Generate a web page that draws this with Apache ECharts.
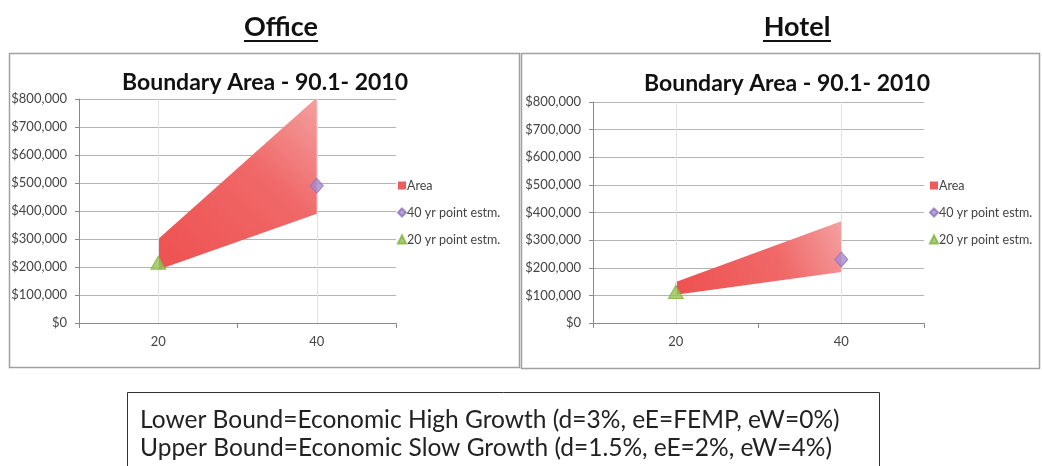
<!DOCTYPE html>
<html>
<head>
<meta charset="utf-8">
<script src="https://cdn.jsdelivr.net/npm/echarts@6/dist/echarts.min.js"></script>
<style>
  html, body { margin: 0; padding: 0; background: #fff; }
  #main { width: 1042px; height: 466px; }
</style>
</head>
<body>
<div id="main"></div>
<script>
  // x categories (years)
  const categories = ['20', '40'];
  const yTicks = [0, 100000, 200000, 300000, 400000, 500000, 600000, 700000, 800000];

  // Office
  const officeLower = [190000, 390000];
  const officeUpper = [300000, 805000];
  const office20yr = [215000, '-'];
  const office40yr = ['-', 490000];

  // Hotel
  const hotelLower = [102000, 185000];
  const hotelUpper = [148000, 368000];
  const hotel20yr = [112000, '-'];
  const hotel40yr = ['-', 230000];

  const FONT = 'Lato, "Liberation Sans", sans-serif';
  const areaColor = new echarts.graphic.LinearGradient(0, 1, 1, 0, [
    {offset: 0, color: '#ee5050'},
    {offset: 0.6, color: '#f06868'},
    {offset: 1, color: '#f4a0a0'}
  ]);

  function money(v) {
    return '$' + v.toLocaleString('en-US');
  }

  function axesFor(idx) {
    return {
      x: {
        type: 'category',
        gridIndex: idx,
        data: categories,
        boundaryGap: true,
        axisLine: {lineStyle: {color: '#8a8a8a'}},
        axisTick: {show: true, length: 5, lineStyle: {color: '#8a8a8a'}},
        axisLabel: {color: '#444', fontFamily: FONT, fontSize: 13, margin: 12},
        splitLine: {show: false}
      },
      y: {
        type: 'value',
        gridIndex: idx,
        min: yTicks[0],
        max: yTicks[yTicks.length - 1],
        interval: yTicks[1] - yTicks[0],
        axisLine: {show: true, lineStyle: {color: '#8a8a8a'}},
        axisTick: {show: true, length: 4, lineStyle: {color: '#8a8a8a'}},
        axisLabel: {color: '#444', fontFamily: FONT, fontSize: 13, margin: 12, formatter: money},
        splitLine: {lineStyle: {color: '#b4b4b4', width: 1}}
      }
    };
  }

  function seriesFor(idx, lower, upper, p20, p40) {
    const stack = 'band' + idx;
    return [
      {
        name: 'lower' + idx,
        type: 'line',
        xAxisIndex: idx,
        yAxisIndex: idx,
        stack: stack,
        data: lower,
        symbol: 'none',
        lineStyle: {opacity: 0},
        silent: true,
        z: 1
      },
      {
        name: 'Area',
        type: 'line',
        xAxisIndex: idx,
        yAxisIndex: idx,
        stack: stack,
        data: upper.map((v, i) => v - lower[i]),
        symbol: 'none',
        lineStyle: {width: 0},
        itemStyle: {color: '#ef5b5b'},
        areaStyle: {color: areaColor, opacity: 1},
        markLine: {
          silent: true,
          symbol: 'none',
          label: {show: false},
          lineStyle: {color: '#e2e2e2', width: 1, type: 'solid'},
          data: categories.map(c => ({xAxis: c}))
        },
        z: 2
      },
      {
        name: '40 yr point estm.',
        type: 'scatter',
        xAxisIndex: idx,
        yAxisIndex: idx,
        data: p40,
        symbol: 'diamond',
        symbolSize: [13, 15],
        itemStyle: {color: '#a58ad0', borderColor: '#8d72bd', borderWidth: 1},
        z: 5
      },
      {
        name: '20 yr point estm.',
        type: 'scatter',
        xAxisIndex: idx,
        yAxisIndex: idx,
        data: p20,
        symbol: 'triangle',
        symbolSize: [15, 13],
        itemStyle: {color: '#93c452', borderColor: '#7eb03e', borderWidth: 1},
        z: 5
      }
    ];
  }

  function legendFor(left) {
    return {
      orient: 'vertical',
      left: left,
      top: 179,
      padding: 0,
      itemGap: 14,
      itemWidth: 8,
      itemHeight: 8,
      textStyle: {color: '#444', fontFamily: FONT, fontSize: 12.5, padding: [0, 0, 0, -4]},
      data: [
        {name: 'Area', icon: 'rect', itemStyle: {color: '#ef5b5b'}},
        {name: '40 yr point estm.', icon: 'diamond', itemStyle: {color: '#a58ad0'}},
        {name: '20 yr point estm.', icon: 'triangle', itemStyle: {color: '#93c452'}}
      ]
    };
  }

  const a0 = axesFor(0);
  const a1 = axesFor(1);

  const chart = echarts.init(document.getElementById('main'));
  chart.setOption({
    backgroundColor: '#fff',
    animation: false,
    legend: [legendFor(397), legendFor(929)],
    grid: [
      {left: 79, right: 646, top: 99, bottom: 143},
      {left: 593, right: 118, top: 102, bottom: 143}
    ],
    xAxis: [a0.x, a1.x],
    yAxis: [a0.y, a1.y],
    series: [].concat(
      seriesFor(0, officeLower, officeUpper, office20yr, office40yr),
      seriesFor(1, hotelLower, hotelUpper, hotel20yr, hotel40yr)
    ),
    graphic: [
      // panel borders
      {type: 'rect', silent: true, z: -1, shape: {x: 9.5, y: 53.5, width: 510, height: 314},
        style: {fill: 'none', stroke: '#a0a0a0', lineWidth: 1.5}},
      {type: 'rect', silent: true, z: -1, shape: {x: 521.5, y: 53.5, width: 518, height: 315},
        style: {fill: 'none', stroke: '#a0a0a0', lineWidth: 1.5}},
      // chart titles
      {type: 'text', x: 265, y: 83,
        style: {text: 'Boundary Area - 90.1- 2010', align: 'center', verticalAlign: 'middle',
          fontFamily: FONT, fontWeight: 'bold', fontSize: 23, fill: '#111'}},
      {type: 'text', x: 787, y: 84,
        style: {text: 'Boundary Area - 90.1- 2010', align: 'center', verticalAlign: 'middle',
          fontFamily: FONT, fontWeight: 'bold', fontSize: 23, fill: '#111'}},
      // headings
      {type: 'text', x: 281, y: 27,
        style: {text: 'Office', align: 'center', verticalAlign: 'middle',
          fontFamily: FONT, fontWeight: 'bold', fontSize: 27, fill: '#111'}},
      {type: 'line', shape: {x1: 244, y1: 41, x2: 318, y2: 41}, style: {stroke: '#111', lineWidth: 2}},
      {type: 'text', x: 797, y: 27,
        style: {text: 'Hotel', align: 'center', verticalAlign: 'middle',
          fontFamily: FONT, fontWeight: 'bold', fontSize: 27, fill: '#111'}},
      {type: 'line', shape: {x1: 763, y1: 41, x2: 831, y2: 41}, style: {stroke: '#111', lineWidth: 2}},
      // note box
      {type: 'rect', silent: true, shape: {x: 127.5, y: 392.5, width: 752, height: 80},
        style: {fill: 'none', stroke: '#333', lineWidth: 1}},
      {type: 'text', x: 140, y: 420,
        style: {text: 'Lower Bound=Economic High Growth (d=3%, eE=FEMP, eW=0%)', verticalAlign: 'middle',
          fontFamily: FONT, fontSize: 24.5, fill: '#222'}},
      {type: 'text', x: 140, y: 448,
        style: {text: 'Upper Bound=Economic Slow Growth (d=1.5%, eE=2%, eW=4%)', verticalAlign: 'middle',
          fontFamily: FONT, fontSize: 24.5, fill: '#222'}}
    ]
  });
</script>
</body>
</html>
